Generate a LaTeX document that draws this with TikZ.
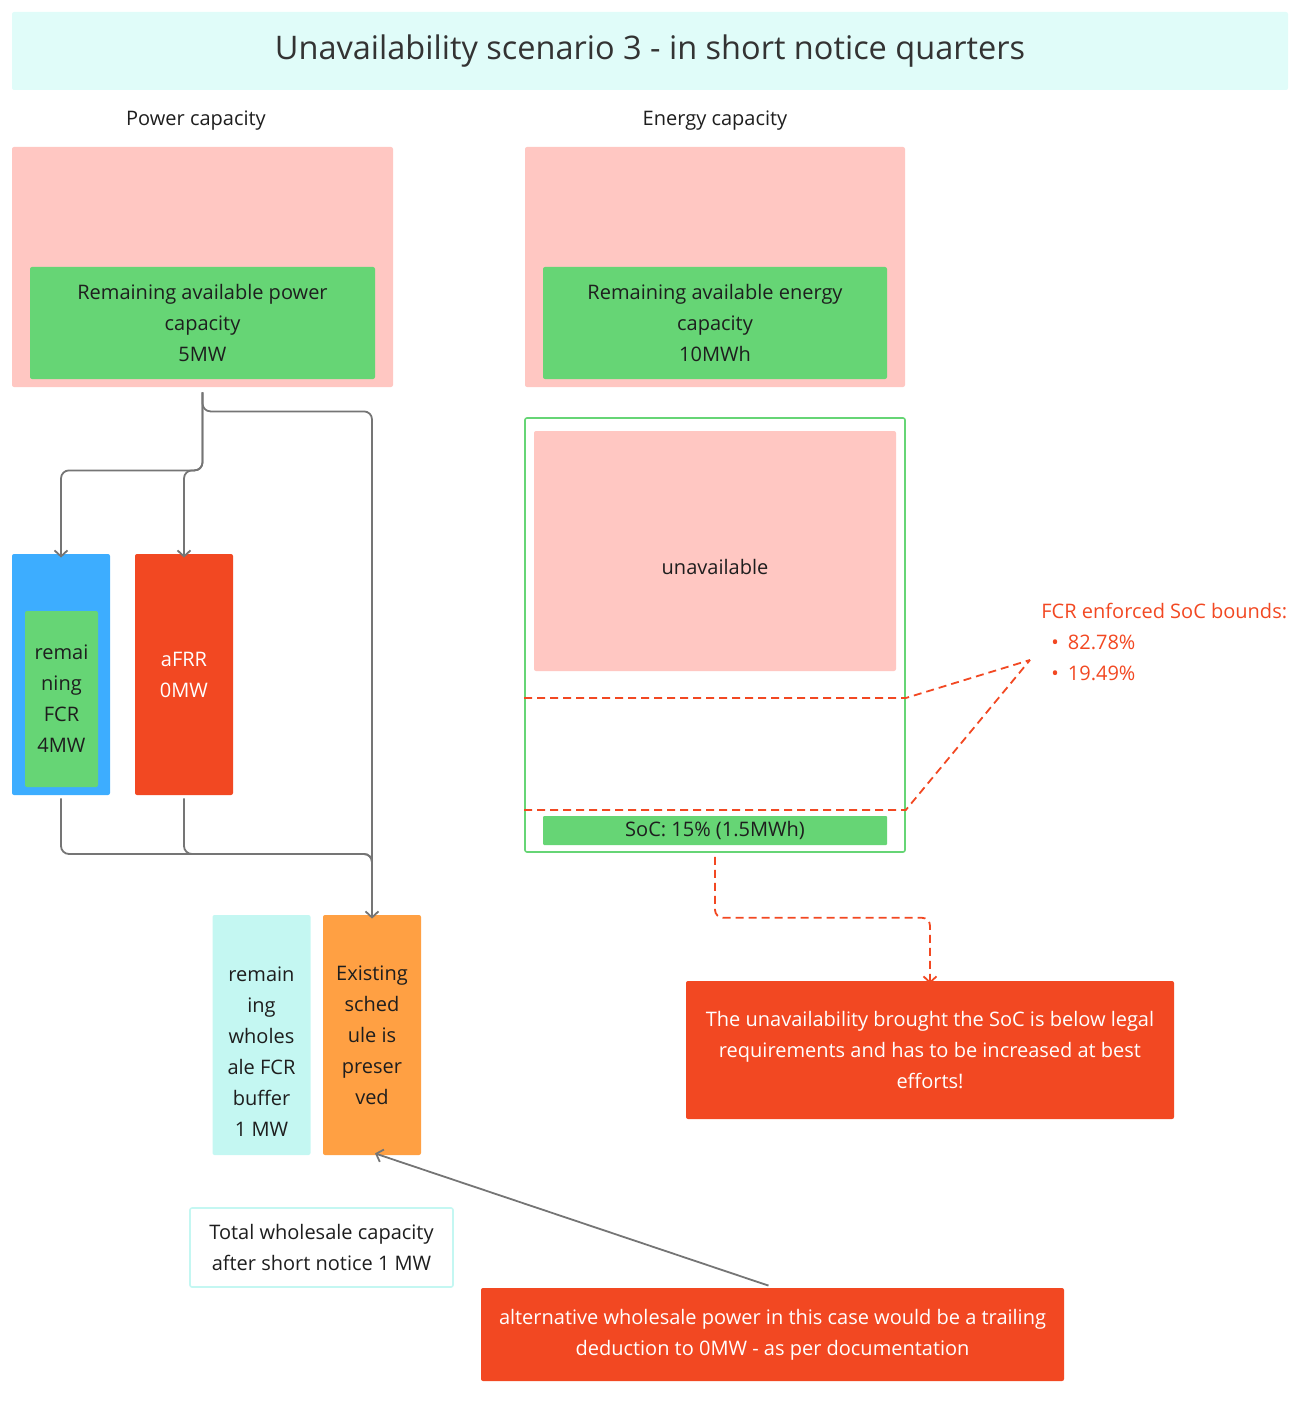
\documentclass[tikz,border=0pt]{standalone}
\usepackage{fontspec}
\setmainfont{Open Sans}
\usetikzlibrary{arrows.meta}
\definecolor{titlebg}{HTML}{E0FCF9}
\definecolor{pinkbg}{HTML}{FFC7C2}
\definecolor{greenbg}{HTML}{66D575}
\definecolor{bluebg}{HTML}{3DADFF}
\definecolor{redbg}{HTML}{F24822}
\definecolor{orangebg}{HTML}{FFA043}
\definecolor{cyanbg}{HTML}{C4F7F2}
\definecolor{linegray}{HTML}{757575}
\definecolor{inktext}{HTML}{1E1E1E}
\begin{document}
\begin{tikzpicture}[x=1pt,y=-1pt,
    box/.style={rectangle,rounded corners=2pt,inner sep=0pt,align=center,text=inktext,
      font=\fontsize{20}{31}\selectfont},
    label/.style={inner sep=0pt,text=inktext,font=\fontsize{20}{31}\selectfont},
    conn/.style={draw=linegray,line width=1.8pt,rounded corners=8pt},
    tip/.style={-{Straight Barb[length=6pt,width=13pt,line width=1.8pt]}},
    bound/.style={draw=redbg,line width=1.8pt,dash pattern=on 8pt off 5pt},
    style=thick]
  \useasboundingbox (0,0) rectangle (1306,1404);

  % title
  \node[box,fill=titlebg,minimum width=1276pt,minimum height=78pt,
    font=\fontsize{32.5}{31}\selectfont,text=black!80] (title) at (650,51)
    {Unavailability scenario 3 - in short notice quarters};
  \node[label] (powerhead) at (196,121) {Power capacity};
  \node[label] (energyhead) at (715,121) {Energy capacity};

  % power side
  \node[box,fill=pinkbg,minimum width=381pt,minimum height=240pt] (power) at (202.5,267) {};
  \node[box,fill=greenbg,minimum width=345pt,minimum height=112pt] (powerleft) at (202.5,323)
    {Remaining available power\\capacity\\5MW};
  \node[box,fill=bluebg,minimum width=98pt,minimum height=241pt] (fcr) at (61,674.5) {};
  \node[box,fill=greenbg,minimum width=73pt,minimum height=176pt] (fcrleft) at (61.5,699)
    {remai\\ning\\FCR\\4MW};
  \node[box,fill=redbg,minimum width=98pt,minimum height=241pt,text=white] (afrr) at (184,674.5)
    {aFRR\\0MW};
  \node[box,fill=cyanbg,minimum width=98pt,minimum height=240pt] (buffer) at (261.5,1035)
    {{}\\[16pt]remain\\ing\\wholes\\ale FCR\\buffer\\1 MW};
  \node[box,fill=orangebg,minimum width=98pt,minimum height=240pt] (sched) at (372,1035)
    {Existing\\sched\\ule is\\preser\\ved};
  \node[box,draw=cyanbg,line width=1.6pt,fill=white,minimum width=263pt,minimum height=79pt] (total)
    at (321.5,1247.5) {Total wholesale capacity\\after short notice 1 MW};
  \node[box,fill=redbg,text=white,minimum width=583pt,minimum height=93pt] (alt) at (772.5,1334.5)
    {alternative wholesale power in this case would be a trailing\\deduction to 0MW - as per documentation};

  % energy side
  \node[box,fill=pinkbg,minimum width=380pt,minimum height=240pt] (energy) at (715,267) {};
  \node[box,fill=greenbg,minimum width=344pt,minimum height=112pt] (energyleft) at (715,323)
    {Remaining available energy\\capacity\\10MWh};
  \node[box,draw=greenbg,line width=1.6pt,fill=white,minimum width=380pt,minimum height=434pt] (soc)
    at (715,635) {};
  \node[box,fill=pinkbg,minimum width=362pt,minimum height=240pt] (unavail) at (715,551)
    {{}\\[16pt]unavailable};
  \node[box,fill=greenbg,minimum width=344pt,minimum height=29pt,rounded corners=1pt] (socnow)
    at (715,830.5) {SoC: 15\% (1.5MWh)};
  \node[box,fill=redbg,text=white,minimum width=488pt,minimum height=138pt] (note) at (930,1050)
    {The unavailability brought the SoC is below legal\\requirements and has to be increased at best\\efforts!};
  \node[label,text=redbg,align=left,anchor=north west] (bounds) at (1041,603)
    {FCR enforced SoC bounds:\\\hspace{10pt}\textbullet\hspace{9pt}82.78\%\\\hspace{10pt}\textbullet\hspace{9pt}19.49\%};

  % SoC bounds
  \coordinate (upper) at (1030,660);
  \draw[bound] (soc.west |- 0,698) -- (soc.east |- 0,698) -- (upper);
  \draw[bound] (soc.west |- 0,810) -- (soc.east |- 0,810) -- (upper);
  \draw[bound,tip,rounded corners=8pt] ([yshift=-4pt]soc.south) -- ++(0,61) -| ([yshift=-3pt]note.north);

  % power split
  \draw[conn,tip] ([yshift=-5pt]power.south) -- ++(0,78) -| ([yshift=-4pt]fcr.north);
  \draw[conn,tip] ([yshift=-5pt]power.south) -- ++(0,78) -| ([yshift=-4pt]afrr.north);
  \draw[conn,tip] ([yshift=-5pt]power.south) -- ++(0,19) -| ([yshift=-4pt]sched.north);
  \coordinate (merge) at (372,854);
  \draw[conn] ([yshift=-3pt]fcr.south) |- (merge) -- ++(0,12);
  \draw[conn] ([yshift=-3pt]afrr.south) |- (merge) -- ++(0,12);
  \draw[draw=linegray,line width=1.8pt,tip] ([xshift=-4pt,yshift=2pt]alt.north) -- ([xshift=3pt,yshift=2pt]sched.south);
\end{tikzpicture}
\end{document}
